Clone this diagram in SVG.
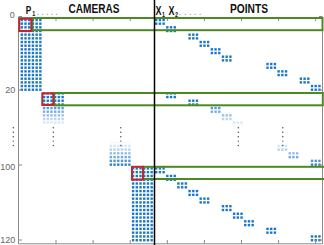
<svg xmlns="http://www.w3.org/2000/svg" width="324" height="245" viewBox="0 0 324 245">
<style>
.dot{fill:#1a76c6}
.ax{stroke:#8a8a8a;stroke-width:1;fill:none}
.lbl{font-family:"Liberation Sans",Arial,sans-serif;font-size:9px;fill:#666;text-anchor:end}
.ttl{font-family:"Liberation Sans",Arial,sans-serif;font-weight:bold;fill:#111}
.ell{font-family:"Liberation Sans",Arial,sans-serif;font-size:10px;fill:#999}
.red{fill:none;stroke:#c0272d;stroke-width:2}
.grn{fill:none;stroke:#4a8a20;stroke-width:2}
.vd{fill:#444}
</style>
<defs>
<rect id="d" class="dot" width="2.4" height="2.4"/>
<g id="c6"><use href="#d" x="0"/><use href="#d" x="3.71"/><use href="#d" x="7.42"/><use href="#d" x="11.13"/><use href="#d" x="14.84"/><use href="#d" x="18.55"/></g>
<g id="r3"><use href="#d" x="0"/><use href="#d" x="3.71"/><use href="#d" x="7.42"/></g>
<g id="pbT"><use href="#r3" y="0"/><use href="#r3" y="3.67"/></g>
<g id="pbB"><use href="#r3" y="0"/><use href="#r3" y="3.78"/></g>
<g id="camT"><use href="#c6" y="0"/><use href="#c6" y="3.67"/><use href="#c6" y="7.34"/><use href="#c6" y="11.01"/><use href="#c6" y="14.68"/><use href="#c6" y="18.35"/><use href="#c6" y="22.02"/><use href="#c6" y="25.69"/><use href="#c6" y="29.36"/><use href="#c6" y="33.03"/><use href="#c6" y="36.7"/><use href="#c6" y="40.37"/><use href="#c6" y="44.04"/><use href="#c6" y="47.71"/><use href="#c6" y="51.38"/><use href="#c6" y="55.05"/><use href="#c6" y="58.72"/><use href="#c6" y="62.39"/><use href="#c6" y="66.06"/><use href="#c6" y="69.73"/></g>
<g id="camB"><use href="#c6" y="0"/><use href="#c6" y="3.78"/><use href="#c6" y="7.56"/><use href="#c6" y="11.34"/><use href="#c6" y="15.12"/><use href="#c6" y="18.9"/><use href="#c6" y="22.68"/><use href="#c6" y="26.46"/><use href="#c6" y="30.24"/><use href="#c6" y="34.02"/><use href="#c6" y="37.8"/><use href="#c6" y="41.58"/><use href="#c6" y="45.36"/><use href="#c6" y="49.14"/><use href="#c6" y="52.92"/><use href="#c6" y="56.7"/><use href="#c6" y="60.48"/><use href="#c6" y="64.26"/><use href="#c6" y="68.04"/><use href="#c6" y="71.82"/></g>
<linearGradient id="fade" gradientUnits="userSpaceOnUse" x1="0" y1="101" x2="0" y2="167">
<stop offset="0" stop-color="#fff" stop-opacity="0"/>
<stop offset="0.394" stop-color="#fff" stop-opacity="1"/>
<stop offset="0.606" stop-color="#fff" stop-opacity="1"/>
<stop offset="1" stop-color="#fff" stop-opacity="0"/>
</linearGradient>
</defs>
<rect width="324" height="245" fill="#fff"/>

<g id="cameras">
<use href="#camT" x="20.6" y="18.8"/>
<g id="cam2">
<use href="#c6" x="42.86" y="92.2"/><use href="#c6" x="42.86" y="95.87"/><use href="#c6" x="42.86" y="99.54"/><use href="#c6" x="42.86" y="103.21"/><use href="#c6" x="42.86" y="106.88"/><use href="#c6" x="42.86" y="110.55"/><use href="#c6" x="42.86" y="114.22"/><use href="#c6" x="42.86" y="117.89"/><use href="#c6" x="42.86" y="121.56"/>
</g>
<g id="cam5">
<use href="#c6" x="109.64" y="140.74"/><use href="#c6" x="109.64" y="144.52"/><use href="#c6" x="109.64" y="148.3"/><use href="#c6" x="109.64" y="152.08"/><use href="#c6" x="109.64" y="155.86"/><use href="#c6" x="109.64" y="159.64"/><use href="#c6" x="109.64" y="163.42"/>
</g>
<use href="#camB" x="131.9" y="167.2"/>
</g>

<g id="points">
<use href="#pbT" x="155" y="18.8"/>
<use href="#pbT" x="166.13" y="26.14"/>
<use href="#pbT" x="188.39" y="33.48"/>
<use href="#pbT" x="199.52" y="40.82"/>
<use href="#pbT" x="210.65" y="48.16"/>
<use href="#pbT" x="221.78" y="55.5"/>
<use href="#pbT" x="266.3" y="62.84"/>
<use href="#pbT" x="277.43" y="70.18"/>
<use href="#pbT" x="299.69" y="77.52"/>
<use href="#pbT" x="310.82" y="84.86"/>
<use href="#pbT" x="166.13" y="92.2"/>
<use href="#pbT" x="188.39" y="99.54"/>
<use href="#pbT" x="210.65" y="106.88"/>
<use href="#pbT" x="221.78" y="114.22"/>
<use href="#pbT" x="232.91" y="121.56"/>
<use href="#pbB" x="277.43" y="144.52"/>
<use href="#pbB" x="288.56" y="152.08"/>
<use href="#pbB" x="310.82" y="159.64"/>
<use href="#pbB" x="155" y="167.2"/>
<use href="#pbB" x="166.13" y="174.76"/>
<use href="#pbB" x="177.26" y="182.32"/>
<use href="#pbB" x="188.39" y="189.88"/>
<use href="#pbB" x="199.52" y="197.44"/>
<use href="#pbB" x="221.78" y="205"/>
<use href="#pbB" x="232.91" y="212.56"/>
<use href="#pbB" x="244.04" y="220.12"/>
<use href="#pbB" x="266.3" y="227.68"/>
<use href="#pbB" x="310.82" y="235.24"/>
</g>

<rect id="fade-overlay" x="19.2" y="101" width="304" height="66" fill="url(#fade)"/>

<g id="axes">
<path class="ax" d="M18.5 17V244M18.5 243.8H322.5V17.5H18.5"/>
<path class="ax" d="M56 17.5V21M93.1 17.5V21M130.2 17.5V21M167.3 17.5V21M204.4 17.5V21M241.5 17.5V21M278.6 17.5V21M315.7 17.5V21"/>
<path class="ax" d="M56 243.8V240M93.1 243.8V240M130.2 243.8V240M167.3 243.8V240M204.4 243.8V240M241.5 243.8V240M278.6 243.8V240M315.7 243.8V240"/>
<path class="ax" d="M18.5 16.5H22M18.5 90H22M18.5 165H22M18.5 240H22M322.5 16.5H319M322.5 90H319M322.5 165H319M322.5 240H319"/>
<text class="lbl" x="14.8" y="18.3">0</text>
<text class="lbl" x="15.2" y="93.3">20</text>
<text class="lbl" x="15.2" y="169.8">100</text>
<text class="lbl" x="15.2" y="243.4">120</text>
</g>

<g id="vdots">
<circle class="vd" cx="13.3" cy="127.7" r="0.7"/><circle class="vd" cx="13.3" cy="132.2" r="0.7"/><circle class="vd" cx="13.3" cy="136.7" r="0.7"/><circle class="vd" cx="13.3" cy="141.1" r="0.7"/><circle class="vd" cx="13.3" cy="145.5" r="0.7"/>
<circle class="vd" cx="53.3" cy="127.7" r="0.7"/><circle class="vd" cx="53.3" cy="132.2" r="0.7"/><circle class="vd" cx="53.3" cy="136.7" r="0.7"/><circle class="vd" cx="53.3" cy="141.1" r="0.7"/><circle class="vd" cx="53.3" cy="145.5" r="0.7"/>
<circle class="vd" cx="120.8" cy="127.7" r="0.7"/><circle class="vd" cx="120.8" cy="132.2" r="0.7"/><circle class="vd" cx="120.8" cy="136.7" r="0.7"/><circle class="vd" cx="120.8" cy="141.1" r="0.7"/><circle class="vd" cx="120.8" cy="145.5" r="0.7"/>
<circle class="vd" cx="238.3" cy="127.7" r="0.7"/><circle class="vd" cx="238.3" cy="132.2" r="0.7"/><circle class="vd" cx="238.3" cy="136.7" r="0.7"/><circle class="vd" cx="238.3" cy="141.1" r="0.7"/><circle class="vd" cx="238.3" cy="145.5" r="0.7"/>
<circle class="vd" cx="282.8" cy="127.7" r="0.7"/><circle class="vd" cx="282.8" cy="132.2" r="0.7"/><circle class="vd" cx="282.8" cy="136.7" r="0.7"/><circle class="vd" cx="282.8" cy="141.1" r="0.7"/><circle class="vd" cx="282.8" cy="145.5" r="0.7"/>
</g>

<g id="boxes">
<rect class="grn" x="32.3" y="18" width="290.2" height="12.2"/>
<rect class="red" x="19.3" y="18.7" width="12" height="12.3"/>
<rect class="grn" x="54" y="93" width="268.8" height="12.3"/>
<rect class="red" x="42.3" y="93.3" width="11" height="11.7"/>
<rect class="grn" x="143.2" y="166.8" width="279.1" height="12.2"/>
<rect class="red" x="132" y="166.8" width="11" height="12.8"/>
</g>

<line id="divider" x1="154.5" y1="0" x2="154.5" y2="245" stroke="#000" stroke-width="1.5"/>

<g id="titles">
<text class="ttl" transform="translate(25.7 13.5) scale(0.72 1)" font-size="11.5">P<tspan x="9.2" dy="2.8" font-size="7.5">1</tspan></text>
<text class="ell" x="36.8" y="15.3" textLength="21" lengthAdjust="spacing">.....</text>
<text class="ttl" x="68.5" y="13.3" font-size="13.5" textLength="51" lengthAdjust="spacingAndGlyphs">CAMERAS</text>
<text class="ttl" transform="translate(155.5 15) scale(0.72 1)" font-size="12.5">X<tspan x="8.9" dy="2.2" font-size="7.5">1</tspan><tspan x="18.06" dy="-2.2">X</tspan><tspan x="27.1" dy="2.2" font-size="7.5">2</tspan></text>
<text class="ell" x="178.6" y="15.3" textLength="23" lengthAdjust="spacing">.....</text>
<text class="ttl" x="230" y="13.3" font-size="13.5" textLength="38" lengthAdjust="spacingAndGlyphs">POINTS</text>
</g>
</svg>
